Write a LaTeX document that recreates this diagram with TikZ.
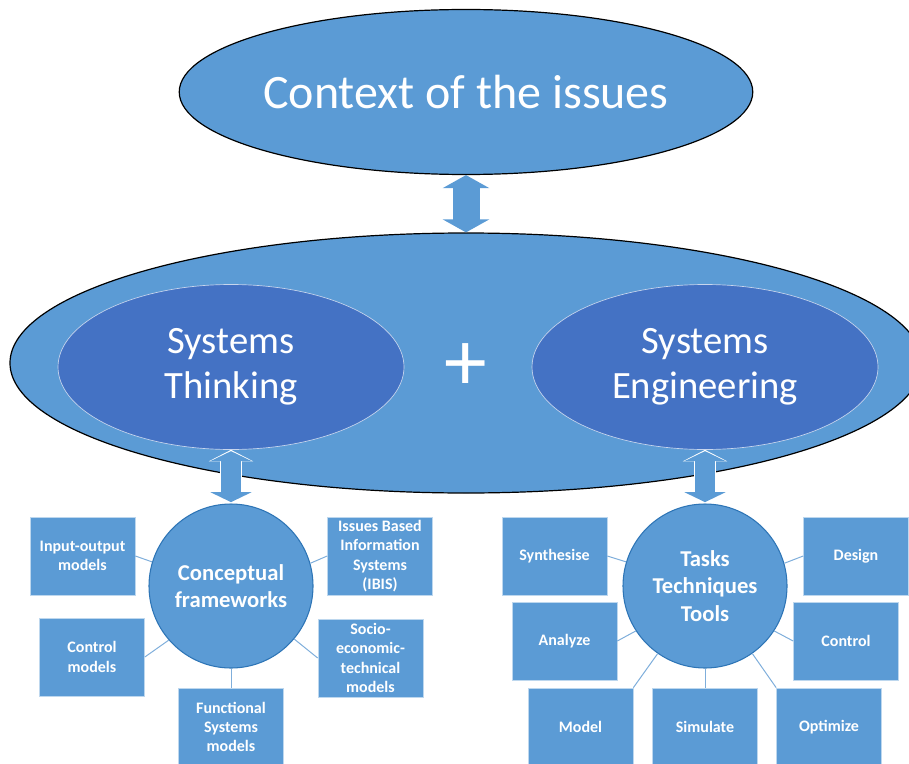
\documentclass[tikz,border=0pt]{standalone}
\usepackage{fontspec}
\setmainfont{Carlito}
\usetikzlibrary{arrows.meta,shapes.geometric}
\definecolor{lblue}{HTML}{5B9BD5}
\definecolor{dblue}{HTML}{4472C4}
\definecolor{rimblue}{HTML}{2E75B6}
\definecolor{lineblue}{HTML}{7FAEDB}
\begin{document}
\begin{tikzpicture}[x=0.75pt,y=-0.75pt]
\tikzstyle{big} = [ellipse,fill=lblue,draw=black,line width=0.9pt,inner sep=0,text=white];
\tikzstyle{inner} = [ellipse,fill=dblue,draw=white!70!dblue,line width=0.5pt,inner sep=0,text=white,minimum width=259.5pt,minimum height=123.75pt,font=\fontsize{29}{34}\selectfont,align=center];
\tikzstyle{hub} = [circle,fill=lblue,draw=rimblue,line width=0.8pt,minimum size=123pt,inner sep=0,text=white,font=\bfseries\fontsize{17}{20.4}\selectfont,align=center];
\tikzstyle{leaf} = [rectangle,fill=lblue,draw=white!60!lblue,line width=0.5pt,minimum width=78.75pt,minimum height=58.5pt,inner sep=0,text=white,font=\bfseries\fontsize{12}{14.4}\selectfont,align=center];
\tikzstyle{bigarr} = [lblue,line width=20.25pt,{Triangle[width=34.5pt,length=9.75pt]}-{Triangle[width=34.5pt,length=9.75pt]}];
\tikzstyle{arrrim} = [white,line width=16.5pt,{Triangle[width=33pt,length=8.6pt]}-{Triangle[width=33pt,length=8.6pt]}];
\tikzstyle{arr} = [lblue,line width=15pt,shorten <=1pt,shorten >=1pt,{Triangle[width=30.75pt,length=7.5pt]}-{Triangle[width=30.75pt,length=7.5pt]}];
\tikzstyle{link} = [lineblue,line width=0.75pt];
\useasboundingbox (0,0) rectangle (909,763);
\node [big,minimum width=405.75pt,minimum height=123.75pt,font=\fontsize{36}{43.2}\selectfont] (ctx) at (466,92) {Context of the issues};
\node [big,minimum width=684pt,minimum height=195pt] (sys) at (466,363) {};
\node [inner] (st) at (231,367) {Systems\\Thinking};
\node [inner] (se) at (705,367) {Systems\\Engineering};
\node [text=white,font=\fontsize{64}{64}\selectfont] (plus) at (466,367) {+};

\node [hub] (cf) at (231,586) {Conceptual\\frameworks};
\node [hub] (ttt) at (705,586) {Tasks\\Techniques\\Tools};

\node [leaf] (io) at (82.5,556) {Input-output\\models};
\node [leaf] (ibis) at (380,556) {Issues Based\\Information\\Systems\\(IBIS)};
\node [leaf] (ctlm) at (92,657) {Control\\models};
\node [leaf] (socio) at (370.5,658) {Socio-\\economic-\\technical\\models};
\node [leaf] (func) at (231,727) {Functional\\Systems\\models};

\node [leaf] (syn) at (554.5,556) {Synthesise};
\node [leaf] (des) at (856,556) {Design};
\node [leaf] (ana) at (564.5,641) {Analyze};
\node [leaf] (ctl) at (846,641) {Control};
\node [leaf] (mod) at (580.5,727) {Model};
\node [leaf] (sim) at (705,727) {Simulate};
\node [leaf] (opt) at (829,727) {Optimize};

\draw [bigarr] (ctx) edge (sys);
\draw [arrrim] (st) edge (cf);
\draw [arr] (st) edge (cf);
\draw [arrrim] (se) edge (ttt);
\draw [arr] (se) edge (ttt);

\draw [link] (cf.163) -- (io.east);
\draw [link] (cf.16) -- (ibis.west);
\draw [link] (cf.221) -- (ctlm.east);
\draw [link] (cf.320) -- (socio.west);
\draw [link] (cf.south) -- (func.north);
\draw [link] (ttt.163) -- (syn.east);
\draw [link] (ttt.16) -- (des.west);
\draw [link] (ttt.213) -- (ana.east);
\draw [link] (ttt.327) -- (ctl.west);
\draw [link] (ttt.235) -- (mod.north east);
\draw [link] (ttt.south) -- (sim.north);
\draw [link] (ttt.305) -- (opt.north west);
\end{tikzpicture}
\end{document}
